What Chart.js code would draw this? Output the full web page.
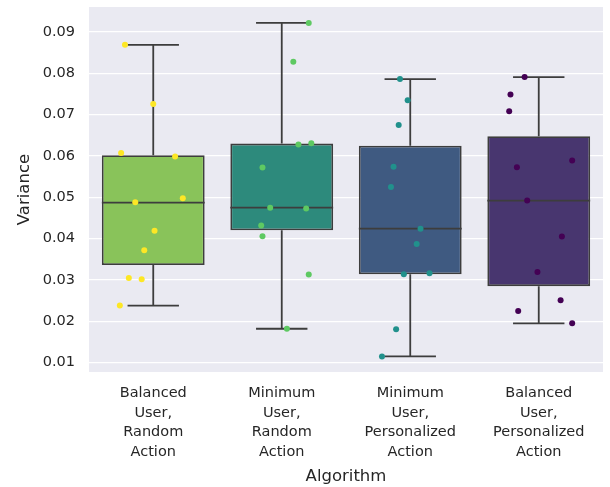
<!DOCTYPE html>
<html><head><meta charset="utf-8">
<script src="https://cdn.jsdelivr.net/npm/chart.js@4/dist/chart.umd.min.js"></script>
<style>html,body{margin:0;padding:0;background:#fff}#wrap{width:610px;height:487px}</style>
</head><body><div id="wrap"><canvas id="c" width="610" height="487"></canvas></div>
<script>
const categories = [
  ["Balanced","User,","Random","Action"],
  ["Minimum","User,","Random","Action"],
  ["Minimum","User,","Personalized","Action"],
  ["Balanced","User,","Personalized","Action"]
];
const q1 = [0.0336, 0.0420, 0.0314, 0.0285];
const median = [0.0487, 0.0475, 0.0424, 0.0492];
const q3 = [0.0602, 0.0630, 0.0625, 0.0648];
const whiskerLow = [0.0238, 0.0182, 0.0115, 0.0195];
const whiskerHigh = [0.0869, 0.0922, 0.0786, 0.0791];
const yTicks = [0.01, 0.02, 0.03, 0.04, 0.05, 0.06, 0.07, 0.08, 0.09];

const pointsBRA = [0.0869, 0.0726, 0.0607, 0.0599, 0.0498, 0.0488, 0.0419, 0.0372, 0.0305, 0.0302, 0.0238];
const jitterBRA = [-0.22, 0.00, -0.25, 0.17, 0.23, -0.14, 0.01, -0.07, -0.19, -0.09, -0.26];
const pointsMRA = [0.0922, 0.0828, 0.0628, 0.0631, 0.0572, 0.0475, 0.0473, 0.0432, 0.0406, 0.0313, 0.0182];
const jitterMRA = [0.21, 0.09, 0.13, 0.23, -0.15, -0.09, 0.19, -0.16, -0.15, 0.21, 0.04];
const pointsMPA = [0.0786, 0.0735, 0.0675, 0.0574, 0.0525, 0.0424, 0.0387, 0.0314, 0.0316, 0.0181, 0.0115];
const jitterMPA = [-0.08, -0.02, -0.09, -0.13, -0.15, 0.08, 0.05, -0.05, 0.15, -0.11, -0.22];
const pointsBPA = [0.0791, 0.0749, 0.0708, 0.0589, 0.0573, 0.0492, 0.0405, 0.0319, 0.0251, 0.0225, 0.0195];
const jitterBPA = [-0.11, -0.22, -0.23, 0.26, -0.17, -0.09, 0.18, -0.01, 0.17, -0.16, 0.26];

const groupPoints = [pointsBRA, pointsMRA, pointsMPA, pointsBPA];
const groupJitter = [jitterBRA, jitterMRA, jitterMPA, jitterBPA];
const boxColors = ['#89c35a', '#2d8a7c', '#3f5a81', '#48366f'];
const pointColors = ['#fde725', '#5ec962', '#21918c', '#440154'];
const edge = '#3d3d3d';
const textColor = '#262626';
const FONT = "'DejaVu Sans', sans-serif";

// line segments (medians, whiskers, caps) built from box stats
const seg = [];
function addSeg(x1, y1, x2, y2) { seg.push({x: x1, y: y1}, {x: x2, y: y2}, {x: x2, y: null}); }
for (let i = 0; i < categories.length; i++) {
  addSeg(i - 0.4, median[i], i + 0.4, median[i]);
  addSeg(i, q3[i], i, whiskerHigh[i]);
  addSeg(i - 0.2, whiskerHigh[i], i + 0.2, whiskerHigh[i]);
  addSeg(i, q1[i], i, whiskerLow[i]);
  addSeg(i - 0.2, whiskerLow[i], i + 0.2, whiskerLow[i]);
}

const scatterSets = groupPoints.map((vals, g) => ({
  type: 'scatter',
  xAxisID: 'xs',
  data: vals.map((v, k) => ({x: g + groupJitter[g][k], y: v})),
  backgroundColor: pointColors[g],
  borderWidth: 0,
  pointRadius: 3,
  order: 0
}));

const bgPlugin = {
  id: 'bg',
  beforeDraw(chart) {
    const {ctx, chartArea: a} = chart;
    ctx.save();
    ctx.fillStyle = '#eaeaf2';
    ctx.fillRect(a.left, a.top, a.right - a.left, a.bottom - a.top);
    ctx.restore();
  }
};

new Chart(document.getElementById('c'), {
  type: 'bar',
  data: {
    labels: categories,
    datasets: [
      {
        type: 'bar',
        xAxisID: 'x',
        data: q1.map((v, i) => [v, q3[i]]),
        backgroundColor: boxColors,
        borderColor: edge,
        borderWidth: 1.8,
        borderSkipped: false,
        grouped: false,
        barPercentage: 0.8,
        categoryPercentage: 1.0,
        order: 2
      },
      {
        type: 'line',
        xAxisID: 'xs',
        data: seg,
        borderColor: edge,
        borderWidth: 1.8,
        pointRadius: 0,
        spanGaps: false,
        tension: 0,
        fill: false,
        order: 1
      },
      ...scatterSets
    ]
  },
  options: {
    responsive: false,
    animation: false,
    events: [],
    layout: {padding: {left: 0, right: 7, top: 7, bottom: 0}},
    plugins: {legend: {display: false}, tooltip: {enabled: false}},
    scales: {
      x: {
        type: 'category',
        offset: true,
        grid: {display: false, drawTicks: false},
        border: {display: false},
        ticks: {color: textColor, font: {family: FONT, size: 14.5, lineHeight: 1.37}, padding: 11, maxRotation: 0, autoSkip: false},
        title: {display: true, text: 'Algorithm', color: textColor, font: {family: FONT, size: 16.5}, padding: {top: 2, bottom: 0}},
        afterFit(scale) { scale.height = 115; scale.paddingLeft = 0; scale.paddingRight = 0; }
      },
      xs: {
        type: 'linear',
        display: false,
        offset: false,
        grid: {offset: false},
        min: -0.5,
        max: 3.5
      },
      y: {
        type: 'linear',
        min: 0.00773,
        max: 0.09605,
        afterBuildTicks(scale) { scale.ticks = yTicks.map(v => ({value: v})); },
        grid: {color: '#ffffff', lineWidth: 1.3, drawTicks: false},
        border: {display: false},
        ticks: {color: textColor, font: {family: FONT, size: 14.5}, padding: 14,
          callback: v => v.toFixed(2)},
        title: {display: true, text: 'Variance', color: textColor, font: {family: FONT, size: 16.5}, padding: {top: 15, bottom: 0}},
        afterFit(scale) { scale.width = 89; scale.paddingTop = 0; scale.paddingBottom = 0; }
      }
    }
  },
  plugins: [bgPlugin]
});
</script>
</body></html>
